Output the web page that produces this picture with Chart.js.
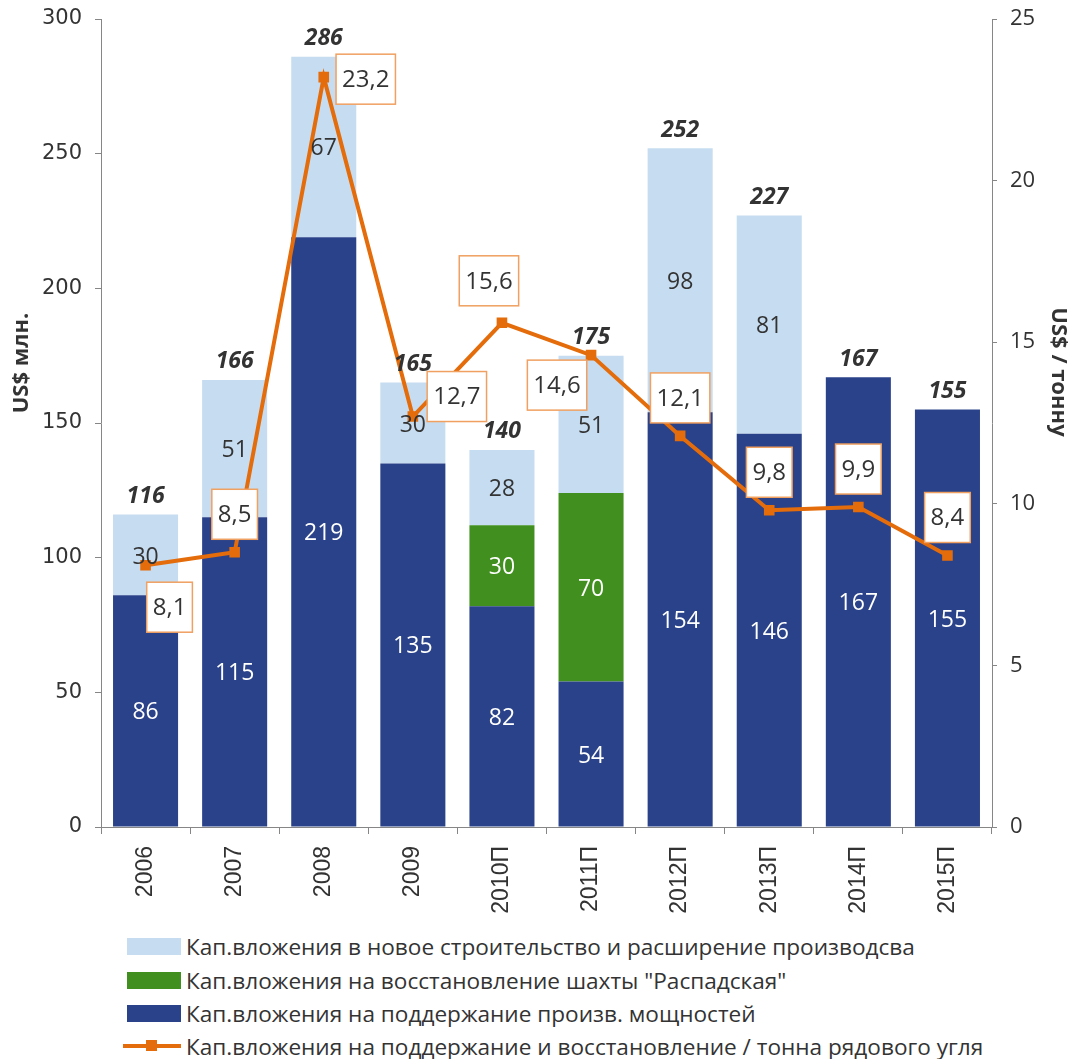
<!DOCTYPE html>
<html>
<head>
<meta charset="utf-8">
<script src="https://cdn.jsdelivr.net/npm/chart.js@4"></script>
<style>
  body { margin: 0; background: #fff; }
  #wrap { position: relative; width: 1074px; height: 1059px; }
  #box { position: absolute; left: 0; top: 0; width: 1074px; height: 925px; }
  .leg { position: absolute; left: 120px; height: 30px; display: flex; align-items: center;
         font: 22.6px "Open Sans", sans-serif; color: #333; white-space: nowrap; }
  .leg .sw { width: 54px; height: 17px; margin: 0 5px 0 7px; }
  .leg .ln { position: relative; width: 58px; height: 4px; background: #e46c0a; margin: 0 5px 0 3px; }
  .leg .ln i { position: absolute; left: 23px; top: -4px; width: 11px; height: 11px; background: #e46c0a; }
</style>
</head>
<body>
<div id="wrap">
  <div id="box"><canvas id="capex"></canvas></div>
  <div class="leg" style="top:931px"><span class="sw" style="background:#c6dcf0"></span>Кап.вложения в новое строительство и расширение производсва</div>
  <div class="leg" style="top:965px"><span class="sw" style="background:#41901f"></span>Кап.вложения на восстановление шахты "Распадская"</div>
  <div class="leg" style="top:998px"><span class="sw" style="background:#2a4289"></span>Кап.вложения на поддержание произв. мощностей</div>
  <div class="leg" style="top:1031px"><span class="ln"><i></i></span>Кап.вложения на поддержание и восстановление / тонна рядового угля</div>
</div>
<script>
const godi = ['2006', '2007', '2008', '2009', '2010П', '2011П', '2012П', '2013П', '2014П', '2015П'];
const podderzhanie = [86, 115, 219, 135, 82, 54, 154, 146, 167, 155];
const vosstanovlenie = [0, 0, 0, 0, 30, 70, 0, 0, 0, 0];
const novoe = [30, 51, 67, 30, 28, 51, 98, 81, 0, 0];
const naTonnu = [8.1, 8.5, 23.2, 12.7, 15.6, 14.6, 12.1, 9.8, 9.9, 8.4];

// смещения центров рамок подписей линии относительно точки
const smeshenie = [[24, 42], [0, -38], [42, 2], [44, -20], [-13, -42], [-34, 30], [0, -38], [0, -38], [0, -38], [0, -38]];

const TEMNY = '#333333';
const zapyataya = v => v.toFixed(1).replace('.', ',');

const podpisi = {
    id: 'podpisi',
    afterDatasetsDraw(chart) {
        const ctx = chart.ctx;
        ctx.save();
        ctx.textAlign = 'center';
        ctx.textBaseline = 'middle';
        // значения внутри столбцов
        [0, 1, 2].forEach(di => {
            const meta = chart.getDatasetMeta(di);
            const ds = chart.data.datasets[di];
            meta.data.forEach((bar, i) => {
                const v = ds.data[i];
                if (!v) return;
                const p = bar.getProps(['x', 'y', 'base'], true);
                ctx.font = '23px "Open Sans", sans-serif';
                ctx.fillStyle = di === 2 ? TEMNY : '#ffffff';
                ctx.fillText(String(v), p.x, (p.y + p.base) / 2 + 2);
            });
        });
        // итоги над столбцами
        const verh = chart.getDatasetMeta(2).data;
        ctx.font = 'italic bold 23px "Open Sans", sans-serif';
        ctx.fillStyle = TEMNY;
        godi.forEach((g, i) => {
            const sum = podderzhanie[i] + vosstanovlenie[i] + novoe[i];
            const x = verh[i].x;
            const y = chart.scales.y.getPixelForValue(sum);
            ctx.fillText(String(sum), x, y - 18);
        });
        // рамки со значениями линии
        const tochki = chart.getDatasetMeta(3).data;
        ctx.font = '24px "Open Sans", sans-serif';
        tochki.forEach((pt, i) => {
            const t = zapyataya(naTonnu[i]);
            const w = ctx.measureText(t).width + 12;
            const h = 50;
            const cx = pt.x + smeshenie[i][0];
            const cy = pt.y + smeshenie[i][1];
            ctx.fillStyle = '#ffffff';
            ctx.fillRect(cx - w / 2, cy - h / 2, w, h);
            ctx.strokeStyle = '#f0a060';
            ctx.lineWidth = 1.5;
            ctx.strokeRect(cx - w / 2, cy - h / 2, w, h);
            ctx.fillStyle = TEMNY;
            ctx.fillText(t, cx, cy + 1);
        });
        ctx.restore();
    },
    afterDraw(chart) {
        const ctx = chart.ctx;
        ctx.save();
        ctx.font = 'bold 22px "Open Sans", sans-serif';
        ctx.fillStyle = TEMNY;
        ctx.textAlign = 'center';
        ctx.textBaseline = 'middle';
        ctx.translate(22, 363);
        ctx.rotate(-Math.PI / 2);
        ctx.fillText('US$ млн.', 0, 0);
        ctx.restore();
        ctx.save();
        ctx.font = 'bold 22px "Open Sans", sans-serif';
        ctx.fillStyle = TEMNY;
        ctx.textAlign = 'center';
        ctx.textBaseline = 'middle';
        ctx.translate(1058, 372);
        ctx.rotate(Math.PI / 2);
        ctx.fillText('US$ / тонну', 0, 0);
        ctx.restore();
    }
};

const stolbik = (label, data, kleur) => ({
    type: 'bar', label, data, backgroundColor: kleur,
    yAxisID: 'y', order: 2, categoryPercentage: 1, barPercentage: 0.73
});

// без лишних отступов от подписей осей
const bezOtstupov = s => { s.paddingTop = 0; s.paddingBottom = 0; s.paddingLeft = 0; s.paddingRight = 0; };

new Chart(document.getElementById('capex'), {
    data: {
        labels: godi,
        datasets: [
            stolbik('Кап.вложения на поддержание произв. мощностей', podderzhanie, '#2a4289'),
            stolbik('Кап.вложения на восстановление шахты "Распадская"', vosstanovlenie, '#41901f'),
            stolbik('Кап.вложения в новое строительство и расширение производсва', novoe, '#c6dcf0'),
            {
                type: 'line', label: 'Кап.вложения на поддержание и восстановление / тонна рядового угля',
                data: naTonnu, yAxisID: 'y1', order: 0,
                borderColor: '#e46c0a', backgroundColor: '#e46c0a', borderWidth: 4,
                pointStyle: 'rect', pointRadius: 7.5, pointBorderWidth: 0, tension: 0
            }
        ]
    },
    options: {
        responsive: true,
        maintainAspectRatio: false,
        animation: false,
        layout: { padding: { top: 19, left: 0, right: 0, bottom: 0 } },
        plugins: { legend: { display: false }, tooltip: { enabled: false } },
        scales: {
            x: {
                stacked: true,
                afterFit: s => { s.height = 98; bezOtstupov(s); },
                grid: { offset: true, drawOnChartArea: false, tickLength: 7, color: '#868686' },
                border: { color: '#868686' },
                ticks: { minRotation: 90, maxRotation: 90, padding: 12, color: TEMNY,
                         font: { family: 'Liberation Sans', size: 23 } }
            },
            y: {
                stacked: true, min: 0, max: 300,
                afterFit: s => { s.width = 101; bezOtstupov(s); },
                grid: { drawOnChartArea: false, tickLength: 6, color: '#868686' },
                border: { color: '#868686' },
                ticks: { stepSize: 50, padding: 13, color: TEMNY,
                         font: { family: 'DejaVu Sans', size: 21 } }
            },
            y1: {
                position: 'right', min: 0, max: 25,
                afterFit: s => { s.width = 82; bezOtstupov(s); },
                grid: { drawOnChartArea: false, tickLength: 5, color: '#868686' },
                border: { color: '#868686' },
                ticks: { stepSize: 5, padding: 13, color: TEMNY,
                         font: { family: 'Open Sans', size: 22 } }
            }
        }
    },
    plugins: [podpisi]
});
</script>
</body>
</html>
